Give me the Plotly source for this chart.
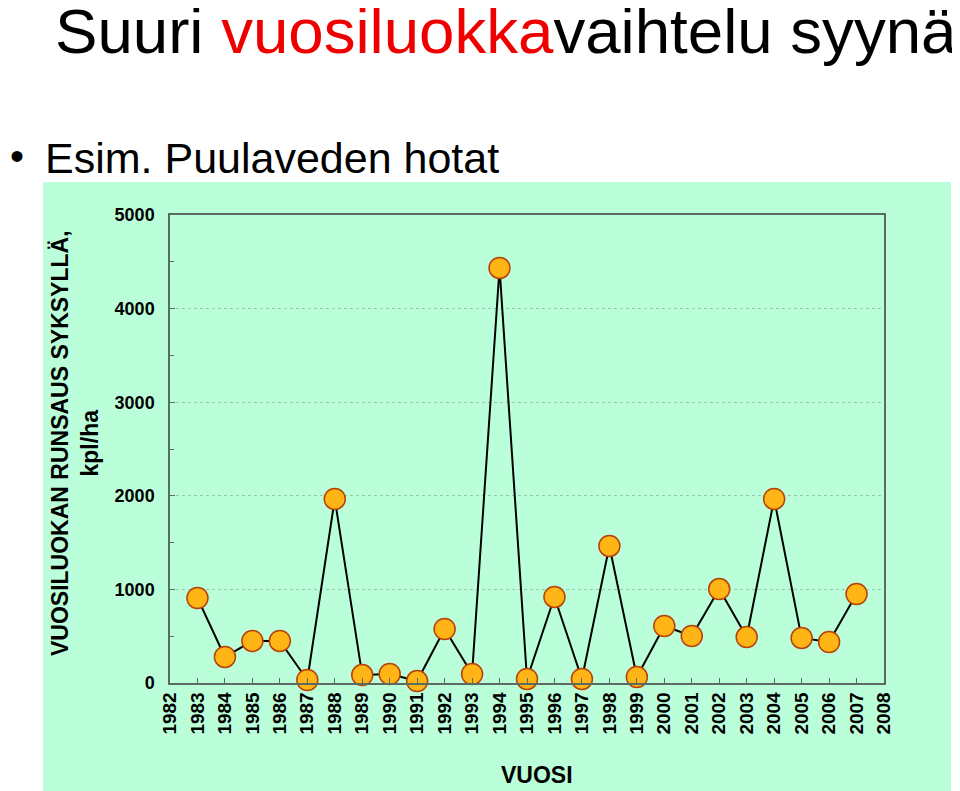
import plotly.graph_objects as go

years = list(range(1983, 2008))
abundance = [908, 278, 449, 449, 32, 1966, 85, 96, 21, 577, 96, 4434, 43, 919,
             43, 1464, 64, 609, 502, 1004, 491, 1966, 481, 438, 951]
tick_years = list(range(1982, 2009))
y_ticks = [0, 1000, 2000, 3000, 4000, 5000]

OFF = 8  # default page margin of the html body
W, H = 960 - OFF, 791 - OFF
L, R, T, B = 170 - OFF, 884 - OFF, 215 - OFF, 683 - OFF
PW, PH = R - L, B - T

def px(x):
    return (x - OFF - L) / PW

def py(y):
    return (B - (y - OFF)) / PH

fig = go.Figure()
fig.add_trace(go.Scatter(
    x=years, y=abundance, mode="lines+markers",
    line=dict(color="black", width=2),
    marker=dict(size=21, color="#FFB515", line=dict(color="#B8400A", width=1.5)),
    showlegend=False, cliponaxis=False,
))

GREEN = "#BAFFD9"
fig.add_shape(type="rect", xref="paper", yref="paper", layer="below",
              x0=px(43), x1=px(951), y0=py(800), y1=py(182),
              fillcolor=GREEN, line=dict(width=0))

AX = "#5b6b62"
fig.update_layout(
    width=W, height=H, autosize=False,
    margin=dict(l=L, r=W - R, t=T, b=H - B),
    paper_bgcolor="white", plot_bgcolor=GREEN,
    font=dict(family="Liberation Sans, Arial", color="black"),
    xaxis=dict(
        range=[1982, 2008], tickvals=tick_years, ticktext=[str(v) for v in tick_years],
        tickangle=-90, ticks="inside", ticklen=5, tickcolor=AX,
        tickfont=dict(size=19, family="Liberation Sans, Arial", weight="bold"),
        showgrid=False, zeroline=False,
        showline=True, linecolor=AX, linewidth=1.5, mirror=True,
    ),
    yaxis=dict(
        range=[0, 5000], tickvals=y_ticks, ticks="inside", ticklen=5, tickcolor=AX,
        tickfont=dict(size=18, family="Liberation Sans, Arial", weight="bold"),
        ticklabelstandoff=10,
        showgrid=True, gridcolor="#97c9ab", griddash="dot", gridwidth=1,
        zeroline=False,
        showline=True, linecolor=AX, linewidth=1.5, mirror=True,
        minor=dict(dtick=500, ticks="inside", ticklen=4, tickcolor=AX, showgrid=False),
    ),
)

# Axis titles as annotations
fig.add_annotation(xref="paper", yref="paper", x=px(75), y=py(443),
                   xanchor="center", yanchor="middle",
                   text="VUOSILUOKAN RUNSAUS SYKSYLLÄ,<br>kpl/ha", textangle=-90,
                   showarrow=False, font=dict(size=23, family="Liberation Sans, Arial", weight="bold"),
                   align="center")
fig.add_annotation(xref="paper", yref="paper", x=px(537), y=py(775),
                   xanchor="center", yanchor="middle",
                   text="VUOSI", showarrow=False,
                   font=dict(size=23, family="Liberation Sans, Arial", weight="bold"))

# Slide title and bullet
fig.add_annotation(xref="paper", yref="paper", x=px(53), y=py(30),
                   xanchor="left", yanchor="middle",
                   text="Suuri <span style='color:#EE0000'>vuosiluokka</span>vaihtelu syynä",
                   showarrow=False, font=dict(size=63.6, family="Liberation Sans, Arial", color="black"))
fig.add_annotation(xref="paper", yref="paper", x=px(8), y=py(156),
                   xanchor="left", yanchor="middle",
                   text="•", showarrow=False,
                   font=dict(size=40, family="Liberation Sans, Arial", color="black"))
fig.add_annotation(xref="paper", yref="paper", x=px(43), y=py(158),
                   xanchor="left", yanchor="middle",
                   text="Esim. Puulaveden hotat", showarrow=False,
                   font=dict(size=43, family="Liberation Sans, Arial", color="black"))

fig.write_html("out.html")
